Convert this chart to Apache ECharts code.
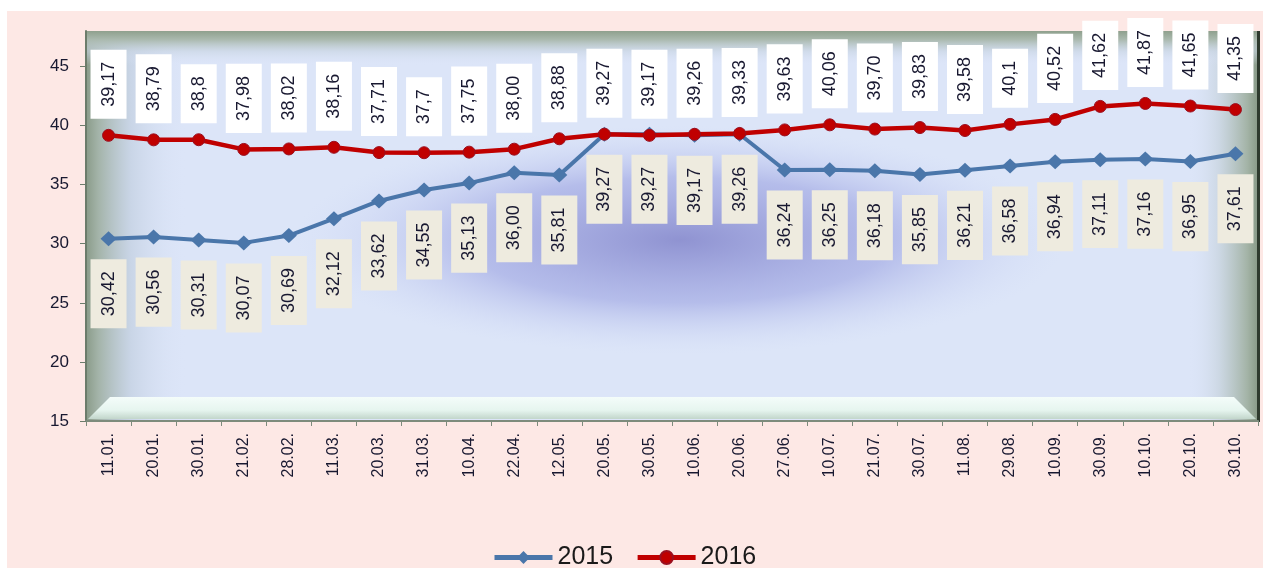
<!DOCTYPE html>
<html>
<head>
<meta charset="utf-8">
<script src="https://cdn.jsdelivr.net/npm/echarts@6/dist/echarts.min.js"></script>
<style>
html,body{margin:0;padding:0;background:#fff;}
#c{width:1263px;height:568px;}
</style>
</head>
<body>
<div id="c"></div>
<script>
const categories = ['11.01.','20.01.','30.01.','21.02.','28.02.','11.03.','20.03.','31.03.','10.04.','22.04.','12.05.','20.05.','30.05.','10.06.','20.06.','27.06.','10.07.','21.07.','30.07.','11.08.','29.08.','10.09.','30.09.','10.10.','20.10.','30.10.'];
const values2015 = [30.42,30.56,30.31,30.07,30.69,32.12,33.62,34.55,35.13,36.00,35.81,39.27,39.27,39.17,39.26,36.24,36.25,36.18,35.85,36.21,36.58,36.94,37.11,37.16,36.95,37.61];
const values2016 = [39.17,38.79,38.8,37.98,38.02,38.16,37.71,37.7,37.75,38.00,38.88,39.27,39.17,39.26,39.33,39.63,40.06,39.70,39.83,39.58,40.1,40.52,41.62,41.87,41.65,41.35];
const labels2015 = ['30,42','30,56','30,31','30,07','30,69','32,12','33,62','34,55','35,13','36,00','35,81','39,27','39,27','39,17','39,26','36,24','36,25','36,18','35,85','36,21','36,58','36,94','37,11','37,16','36,95','37,61'];
const labels2016 = ['39,17','38,79','38,8','37,98','38,02','38,16','37,71','37,7','37,75','38,00','38,88','39,27','39,17','39,26','39,33','39,63','40,06','39,70','39,83','39,58','40,1','40,52','41,62','41,87','41,65','41,35'];
const seriesNames = ['2015','2016'];
const yMin = 15, yMax = 48, yInterval = 5;

const W = 1263, H = 568;
const G = {left: 86, top: 31, right: 1258, bottom: 421};
const gw = G.right - G.left, gh = G.bottom - G.top;
const FONT = '"Liberation Sans", Arial, sans-serif';
const TXT = '#181830';

const chart = echarts.init(document.getElementById('c'), null, {renderer: 'canvas'});

const lin = (x2, y2, stops) => ({type: 'linear', x: 0, y: 0, x2: x2, y2: y2, colorStops: stops.map(s => ({offset: s[0], color: s[1]}))});

const graphics = [
  {type: 'rect', z: -30, silent: true, shape: {x: 7, y: 11, width: W - 7, height: H - 11}, style: {fill: '#fde8e5'}},
  {type: 'rect', z: -29, silent: true, shape: {x: G.left, y: G.top, width: gw, height: gh}, style: {fill: '#dce5f8'}},
  {type: 'rect', z: -28, silent: true, x: 680, y: 240, scaleX: 1.75, scaleY: 0.52,
    shape: {x: -220, y: -220, width: 440, height: 440},
    style: {fill: {type: 'radial', x: 0.5, y: 0.5, r: 0.5, colorStops: [
      {offset: 0, color: 'rgba(135,138,205,0.9)'},
      {offset: 0.55, color: 'rgba(155,162,225,0.6)'},
      {offset: 1, color: 'rgba(205,215,246,0)'}]}}},
  {type: 'rect', z: -27, silent: true, shape: {x: G.left, y: G.top, width: 100, height: gh},
    style: {fill: lin(1, 0, [[0, '#8a9b89'], [0.12, '#a3b3a8'], [0.45, 'rgba(195,208,225,0.75)'], [1, 'rgba(219,228,248,0)']])}},
  {type: 'rect', z: -27, silent: true, shape: {x: G.right - 70, y: G.top, width: 70, height: gh},
    style: {fill: lin(1, 0, [[0, 'rgba(219,228,248,0)'], [0.45, 'rgba(200,212,222,0.8)'], [0.85, '#a3b3a6'], [1, '#889987']])}},
  {type: 'rect', z: -26, silent: true, shape: {x: G.left, y: G.top, width: gw, height: 34},
    style: {fill: lin(0, 1, [[0, '#8fa08d'], [0.25, '#aab9ae'], [0.6, 'rgba(200,212,225,0.6)'], [1, 'rgba(219,228,248,0)']])}},
  {type: 'polygon', z: -25, silent: true, shape: {points: [[G.left + 2, G.bottom - 2], [G.left + 24, G.bottom - 24], [G.right - 24, G.bottom - 24], [G.right - 2, G.bottom - 2]]},
    style: {fill: lin(0, 1, [[0, '#f4fcfa'], [0.6, '#e6f5ef'], [1, '#c2d6cb']])}},
  {type: 'rect', z: -24, silent: true, shape: {x: G.right - 1, y: G.top, width: 3, height: gh + 1}, style: {fill: '#2e3a2e'}}
];

const option = {
  backgroundColor: '#ffffff',
  animation: false,
  graphic: graphics,
  grid: {left: G.left, top: G.top, right: W - G.right, bottom: H - G.bottom, containLabel: false},
  legend: {
    data: seriesNames,
    left: 487, top: 540,
    itemWidth: 58, itemHeight: 16, itemGap: 22,
    lineStyle: {width: 5},
    textStyle: {fontFamily: FONT, fontSize: 25, color: '#1a1a1a'}
  },
  xAxis: {
    type: 'category',
    data: categories,
    boundaryGap: true,
    axisLine: {show: true, lineStyle: {color: '#7d8b7c', width: 2}},
    axisTick: {show: true, length: 5, lineStyle: {color: '#7d8b7c'}},
    axisLabel: {rotate: 90, margin: 12, fontFamily: FONT, fontSize: 16, color: TXT, interval: 0}
  },
  yAxis: {
    type: 'value',
    min: yMin, max: yMax, interval: yInterval,
    splitLine: {show: false},
    axisLine: {show: true, lineStyle: {color: '#6c7c6b', width: 2}},
    axisTick: {show: true, length: 6, lineStyle: {color: '#6c7c6b'}},
    axisLabel: {showMaxLabel: false, margin: 17, fontFamily: FONT, fontSize: 17, color: TXT}
  },
  series: [
    {
      name: seriesNames[0], type: 'line', data: values2015,
      symbol: 'diamond', symbolSize: [16, 15], showAllSymbol: true,
      lineStyle: {color: '#4a76aa', width: 4},
      itemStyle: {color: '#4a76aa'},
      z: 2,
      label: {
        show: true, position: 'bottom', distance: 13, rotate: 90, align: 'right', verticalAlign: 'middle',
        formatter: p => labels2015[p.dataIndex],
        fontFamily: FONT, fontSize: 18, color: TXT,
        backgroundColor: '#eeebdf', padding: [9, 12, 9, 12]
      }
    },
    {
      name: seriesNames[1], type: 'line', data: values2016,
      symbol: 'circle', symbolSize: 12, showAllSymbol: true,
      lineStyle: {color: '#c00000', width: 4.5},
      itemStyle: {color: '#c00000', borderColor: '#9a1020', borderWidth: 1},
      z: 3,
      label: {
        show: true, position: 'top', distance: 10, rotate: 90, align: 'left', verticalAlign: 'middle',
        formatter: p => labels2016[p.dataIndex],
        fontFamily: FONT, fontSize: 18, color: TXT,
        backgroundColor: '#ffffff', padding: [9, 12, 9, 12]
      }
    }
  ]
};
chart.setOption(option);
</script>
</body>
</html>
